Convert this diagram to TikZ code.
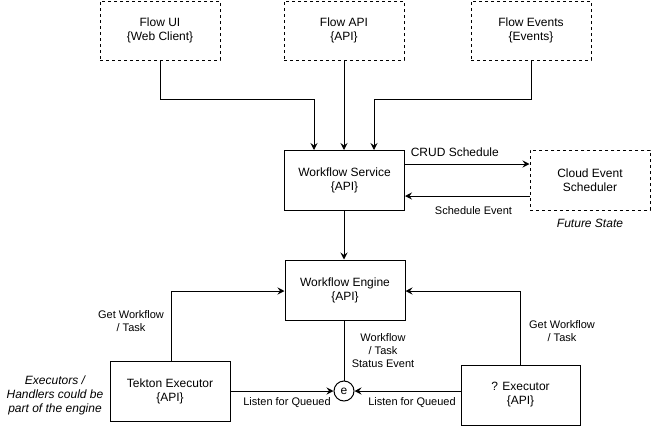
\documentclass[tikz,border=0pt]{standalone}
\usepackage{fontspec}
\setmainfont{Liberation Sans}
\usetikzlibrary{arrows.meta}
\tikzset{
  box/.style={draw, line width=1pt, minimum width=120pt, minimum height=60pt, inner sep=0pt, align=center, font=\fontsize{12}{14}\selectfont},
  dbox/.style={box, dash pattern=on 3pt off 3pt},
  conn/.style={line width=1pt},
  arr/.style={conn, -{Stealth[length=7pt,width=7pt,inset=2.5pt]}},
  lbl/.style={align=center, inner sep=0pt, font=\fontsize{11}{13}\selectfont},
  note/.style={align=center, inner sep=0pt, font=\fontsize{12}{14}\selectfont\itshape}
}
\begin{document}
\begin{tikzpicture}[x=1pt,y=-1pt]
\useasboundingbox (0,0) rectangle (651,426);
\node[dbox, minimum height=59pt] (ui) at (160,30.5) {Flow UI\\\{Web Client\}};
\node[dbox, minimum height=59pt] (api) at (344,30.5) {Flow API\\\{API\}};
\node[dbox, minimum height=59pt] (ev) at (531,30.5) {Flow Events\\\{Events\}};
\node[box] (ws) at (344.5,180) {Workflow Service\\\{API\}};
\node[dbox, minimum width=120pt] (ces) at (590,180) {Cloud Event\\Scheduler};
\node[note] (fs) at (590,223) {Future State};
\node[box] (we) at (345,290) {Workflow Engine\\\{API\}};
\node[box] (te) at (170,391) {Tekton Executor\\\{API\}};
\node[box, minimum width=119pt] (qe) at (520.5,395) {? Executor\\\{API\}};
\node[draw, circle, line width=1pt, minimum size=20pt, inner sep=0pt, font=\fontsize{12}{14}\selectfont] (e) at (344,391) {e};
\node[note] (exn) at (55,395) {Executors /\\Handlers could be\\part of the engine};

\coordinate (uib) at (160,60);
\coordinate (evb) at (531,60);
\draw[arr] (uib) -- (160,99) -- (314,99) -- (314,150);
\draw[arr] (api.south) -- (344,150);
\draw[arr] (evb) -- (531,99) -- (374,99) -- (374,150);

\draw[arr] (ws.east |- 0,164) -- (ces.west |- 0,164) node[lbl, font=\fontsize{12}{14}\selectfont, pos=0.4, above=7pt] {CRUD Schedule};
\draw[arr] (ces.west |- 0,196) -- (ws.east |- 0,196) node[lbl, pos=0.45, below=10pt] {Schedule Event};

\draw[arr] (ws.south -| 344,0) -- (we.north -| 344,0);

\draw[arr] (te.north -| 171,0) -- (171,291) -- (we.west |- 0,291);
\node[lbl] (l1) at (131,321) {Get Workflow\\/ Task};
\draw[arr] (qe.north -| 520,0) -- (520,291) -- (we.east |- 0,291);
\node[lbl] (l2) at (562,331) {Get Workflow\\/ Task};

\draw[conn] (we.south -| 344,0) -- (e.north);
\node[lbl] (l3) at (383,351) {Workflow\\/ Task\\Status Event};

\draw[arr] (te.east |- e) -- (e.west);
\node[lbl] (l4) at (287,403) {Listen for Queued};
\draw[arr] (qe.west |- e) -- (e.east);
\node[lbl] (l5) at (412,403) {Listen for Queued};
\end{tikzpicture}
\end{document}
